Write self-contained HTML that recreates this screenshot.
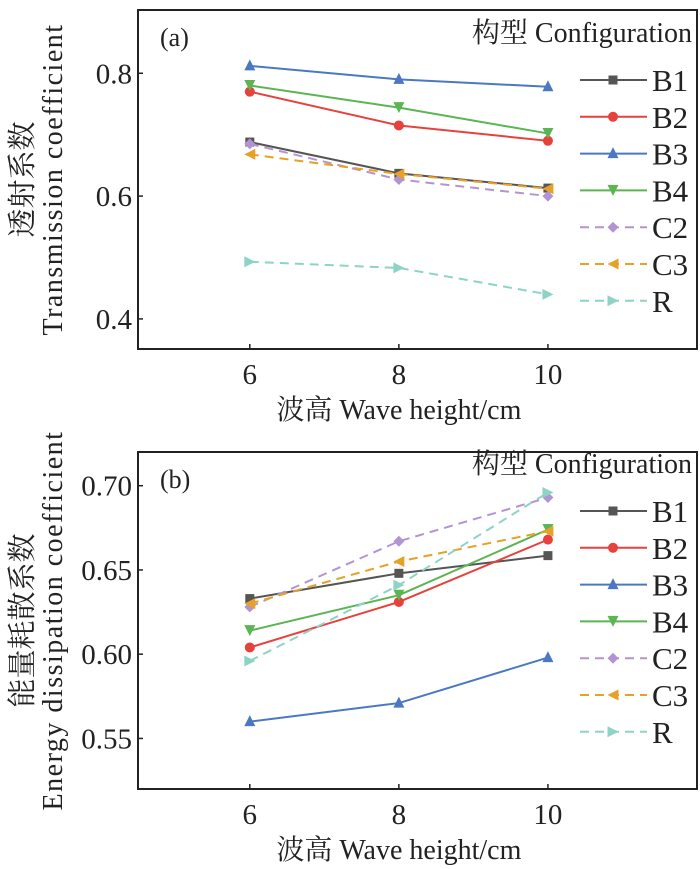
<!DOCTYPE html>
<html><head><meta charset="utf-8"><style>
body{margin:0;background:#fff}
svg{display:block;font-family:"Liberation Serif","Noto Serif CJK SC",serif}
</style></head><body>
<svg id="c" width="700" height="869"></svg>
<script>
const xTicks=[6,8,10];
const seriesNames=["B1","B2","B3","B4","C2","C3","R"];
const transB1=[0.688,0.637,0.613];
const transB2=[0.770,0.715,0.690];
const transB3=[0.812,0.790,0.778];
const transB4=[0.780,0.744,0.702];
const transC2=[0.685,0.627,0.600];
const transC3=[0.668,0.636,0.612];
const transR=[0.493,0.483,0.440];
const dissB1=[0.633,0.648,0.6585];
const dissB2=[0.604,0.631,0.668];
const dissB3=[0.560,0.571,0.598];
const dissB4=[0.614,0.635,0.674];
const dissC2=[0.628,0.667,0.693];
const dissC3=[0.630,0.655,0.673];
const dissR=[0.596,0.641,0.696];
const yTicksA=[0.4,0.6,0.8];
const yTickLabelsA=["0.4","0.6","0.8"];
const yTicksB=[0.55,0.60,0.65,0.70];
const yTickLabelsB=["0.55","0.60","0.65","0.70"];

const colors=["#555555","#e8403a","#4a78c2","#5ab552","#b394d2","#e6a128","#8ed3c6"];
const markers=["square","circle","up","down","diamond","left","right"];
const dashed=[false,false,false,false,true,true,true];
const NS="http://www.w3.org/2000/svg";
const svg=document.getElementById('c');
function mk(t,a,p){const e=document.createElementNS(NS,t);for(const k in a)e.setAttribute(k,a[k]);(p||svg).appendChild(e);return e;}
function marker(g,type,x,y,c){
  const s=5.5;let e;
  if(type==="square")e=mk('rect',{x:x-4.5,y:y-4.5,width:9,height:9,fill:c},g);
  else if(type==="circle")e=mk('circle',{cx:x,cy:y,r:5,fill:c},g);
  else{let p;
    if(type==="up")p=[[x,y-s-1],[x-s,y+s-1],[x+s,y+s-1]];
    if(type==="down")p=[[x,y+s],[x-s,y-s],[x+s,y-s]];
    if(type==="diamond")p=[[x,y-s],[x+s,y],[x,y+s],[x-s,y]];
    if(type==="left")p=[[x-s,y],[x+s,y-s],[x+s,y+s]];
    if(type==="right")p=[[x+s,y],[x-s,y-s],[x-s,y+s]];
    e=mk('polygon',{points:p.map(q=>q.join(',')).join(' '),fill:c},g);}
  
  
}
function panel(id,top,bottom,ymin,ymax,yt,ytl,data,label,ylab1,ylab2,legTop){
  const L=138,R=697,xmin=4.5,xmax=12;
  const X=v=>L+(v-xmin)/(xmax-xmin)*(R-L);
  const Y=v=>bottom-(v-ymin)/(ymax-ymin)*(bottom-top);
  const g=mk('g',{});
  
  
  const fr=mk('rect',{x:L,y:top,width:R-L,height:bottom-top,fill:'none',stroke:'#222','stroke-width':2},g);
  
  xTicks.forEach(v=>{mk('line',{x1:X(v),x2:X(v),y1:bottom,y2:bottom-5,stroke:'#222','stroke-width':1.5},g);
    const t=mk('text',{x:X(v),y:bottom+35,'font-size':29,'text-anchor':'middle',fill:'#222'},g);t.textContent=v;
    });
  yt.forEach((v,i)=>{mk('line',{x1:L,x2:L+5,y1:Y(v),y2:Y(v),stroke:'#222','stroke-width':1.5},g);
    const t=mk('text',{x:L-6,y:Y(v)+10,'font-size':29,'text-anchor':'end',fill:'#222'},g);t.textContent=ytl[i];
    });
  const xt=mk('text',{x:X(8),y:bottom+70,'font-size':28,'text-anchor':'middle',fill:'#222'},g);xt.textContent="波高 Wave height/cm";
  
  const cy=(top+bottom)/2;
  const y1=mk('text',{transform:`translate(32,${cy}) rotate(-90)`,'font-size':29,'text-anchor':'middle',fill:'#222'},g);y1.textContent=ylab1;
  
  const y2=mk('text',{transform:`translate(62,${cy}) rotate(-90)`,'font-size':28,'text-anchor':'middle',fill:'#222','letter-spacing':1.5},g);y2.textContent=ylab2;
  
  const pl=mk('text',{x:160,y:top+36,'font-size':26,fill:'#222'},g);pl.textContent=label;
  
  data.forEach((d,i)=>{
    const s=mk('g',{},g);
    
    
    const a={points:d.map((v,j)=>X(xTicks[j])+','+Y(v)).join(' '),fill:'none',stroke:colors[i],'stroke-width':2};
    if(dashed[i])a['stroke-dasharray']='9,6';
    mk('polyline',a,s);
    d.forEach((v,j)=>marker(s,markers[i],X(xTicks[j]),Y(v),colors[i]));
  });
  const lt=mk('text',{x:692,y:legTop,'font-size':28,'text-anchor':'end',fill:'#222'},g);lt.textContent="构型 Configuration";
  
  seriesNames.forEach((n,i)=>{
    const ly=legTop+38+i*36.8;
    const e=mk('g',{},g);
    
    
    const a={x1:580,x2:647,y1:ly,y2:ly,stroke:colors[i],'stroke-width':2};
    if(dashed[i])a['stroke-dasharray']='9,6';
    mk('line',a,e);marker(e,markers[i],613,ly,colors[i]);
    const t=mk('text',{x:652,y:ly+11,'font-size':31,fill:'#222'},e);t.textContent=n;
  });
}
panel('panel-a',10,349,0.351,0.903,yTicksA,yTickLabelsA,[transB1,transB2,transB3,transB4,transC2,transC3,transR],"(a)","透射系数","Transmission coefficient",42);
panel('panel-b',452,789,0.520,0.720,yTicksB,yTickLabelsB,[dissB1,dissB2,dissB3,dissB4,dissC2,dissC3,dissR],"(b)","能量耗散系数","Energy dissipation coefficient",473);
</script>
</body></html>
